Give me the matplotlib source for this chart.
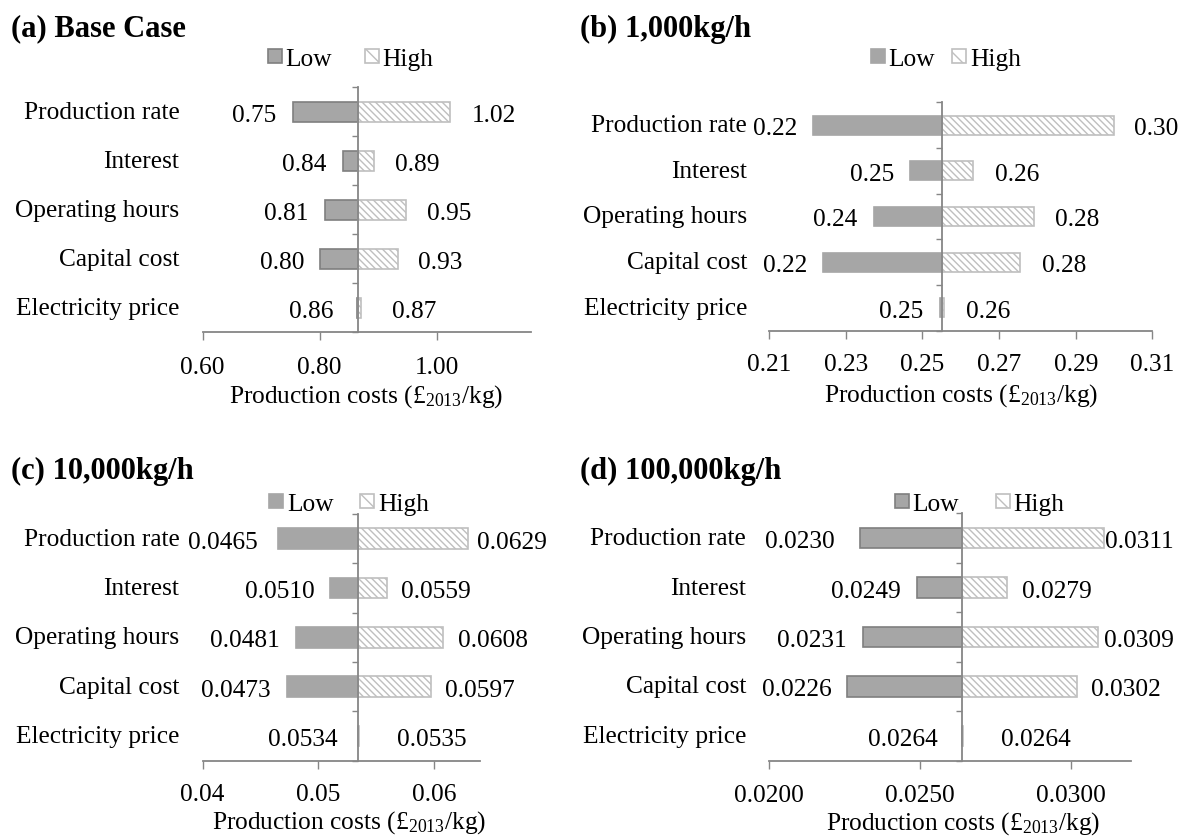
import matplotlib
matplotlib.use('Agg')
import matplotlib.pyplot as plt
from matplotlib.patches import Patch

plt.rcParams['font.family'] = ['Liberation Serif', 'DejaVu Serif']
plt.rcParams['mathtext.fontset'] = 'custom'
plt.rcParams['mathtext.rm'] = 'Liberation Serif'
plt.rcParams['mathtext.default'] = 'regular'
plt.rcParams['hatch.linewidth'] = 1.0

# ---------------- data ----------------
categories = ['Production rate', 'Interest', 'Operating hours', 'Capital cost', 'Electricity price']
titles = ['(a) Base Case', '(b) 1,000kg/h', '(c) 10,000kg/h', '(d) 100,000kg/h']
series_names = ['Low', 'High']

base_a = 0.866
low_a = [0.754, 0.840, 0.809, 0.800, 0.863]
high_a = [1.022, 0.893, 0.947, 0.933, 0.871]

base_b = 0.2551
low_b = [0.2215, 0.2467, 0.2373, 0.2240, 0.2546]
high_b = [0.3000, 0.2633, 0.2791, 0.2755, 0.2557]

base_c = 0.05345
low_c = [0.0465, 0.0510, 0.0481, 0.0473, 0.0534]
high_c = [0.0629, 0.0559, 0.0608, 0.0597, 0.0535]

base_d = 0.02641
low_d = [0.0230, 0.0249, 0.0231, 0.0226, 0.02639]
high_d = [0.0311, 0.0279, 0.0309, 0.0302, 0.02643]

ticks_a = [0.60, 0.80, 1.00]
ticklabels_a = ['0.60', '0.80', '1.00']
ticks_b = [0.21, 0.23, 0.25, 0.27, 0.29, 0.31]
ticklabels_b = ['0.21', '0.23', '0.25', '0.27', '0.29', '0.31']
ticks_c = [0.04, 0.05, 0.06]
ticklabels_c = ['0.04', '0.05', '0.06']
ticks_d = [0.020, 0.025, 0.030]
ticklabels_d = ['0.0200', '0.0250', '0.0300']

xlims = [(0.60, 1.16), (0.21, 0.31), (0.04, 0.064), (0.02, 0.032)]
label_fmts = ['{:.2f}', '{:.2f}', '{:.4f}', '{:.4f}']
xlabel = 'Production costs (£$_{2013}$/kg)'

# ---------------- layout / style ----------------
W, H = 1190, 837
fig = plt.figure(figsize=(W / 100, H / 100), dpi=100)

rects_px = [(202.5, 88.3, 530.5, 333.3), (769, 103.3, 1152.4, 331.7),
            (202.5, 515, 480.3, 761.7), (769, 514.3, 1131, 761.7)]
title_pos = [(10.8, 29), (580.5, 29), (10.8, 471), (580.5, 471)]
legend_pos = [(350.5, 60), (945.7, 60), (349, 505), (979.7, 505)]
legend_colsp_px = [33.3, 17.5, 27, 37]
FS = 18.3
TITLE_FS = 22
tick_pads = [11, 10, 10, 11]
label_pads = [3, 4.2, 2.3, 2]
xlabel_x = [0.5, 0.5, 0.526, 0.536]
gap_low = [[16, 16.5, 17, 15, 22.6],
           [15.5, 15.5, 16.3, 15.5, 16.7],
           [19.7, 15, 16.8, 16, 20.4],
           [24.4, 16.3, 16.3, 15.5, 24]]
gap_high = [[22.6, 20.8, 20.8, 20.8, 30.5],
            [21, 21.3, 21.4, 21.4, 22],
            [14, 14, 14.3, 14.3, 38.7],
            [14, 14.4, 14, 14.7, 38]]
low_edges = ['#7f7f7f', '#a6a6a6', '#a6a6a6', '#7f7f7f']
right_limits = [546.6, 1178, 546.6, 1174]
cat_gap = [23, 22, 23, 23]

LOW_FILL = '#a6a6a6'
HIGH_EDGE = '#bfbfbf'
AXIS_COL = '#868686'
HATCH = '\\' * 5
BAR_H = 0.42
EM = FS * 100 / 72

panels = [
    (base_a, low_a, high_a, ticks_a, ticklabels_a),
    (base_b, low_b, high_b, ticks_b, ticklabels_b),
    (base_c, low_c, high_c, ticks_c, ticklabels_c),
    (base_d, low_d, high_d, ticks_d, ticklabels_d),
]

ypos = list(range(len(categories) - 1, -1, -1))
high_texts = []

for k, (base, low, high, ticks, tlabels) in enumerate(panels):
    l, t, r, b = rects_px[k]
    ax = fig.add_axes([l / W, 1 - b / H, (r - l) / W, (b - t) / H])
    ax.set_xlim(*xlims[k])
    ax.set_ylim(-0.5, len(categories) - 0.5)

    ax.barh(ypos, [base - v for v in low], left=low, height=BAR_H,
            color=LOW_FILL, edgecolor=low_edges[k], linewidth=1.2, zorder=2)
    ax.barh(ypos, [v - base for v in high], left=base, height=BAR_H,
            color='white', edgecolor=HIGH_EDGE, hatch=HATCH, linewidth=1.2, zorder=2)

    for s in ['top', 'right']:
        ax.spines[s].set_visible(False)
    ax.spines['left'].set_position(('data', base))
    ax.spines['left'].set_color(AXIS_COL)
    ax.spines['left'].set_linewidth(1.3)
    ax.spines['left'].set_zorder(3)
    ax.spines['bottom'].set_color(AXIS_COL)
    ax.spines['bottom'].set_linewidth(1.3)

    ax.set_yticks([i - 0.5 for i in range(len(categories) + 1)])
    ax.set_yticklabels([])
    ax.tick_params(axis='y', direction='out', length=4.4, width=1, color=AXIS_COL)
    ax.set_xticks(ticks)
    ax.set_xticklabels(tlabels, fontsize=FS)
    ax.tick_params(axis='x', direction='out', length=6, width=1, color=AXIS_COL,
                   pad=tick_pads[k])
    ax.set_xlabel(xlabel, fontsize=FS, labelpad=label_pads[k])
    ax.xaxis.label.set_x(xlabel_x[k])

    ytr = ax.get_yaxis_transform()
    for cat, y in zip(categories, ypos):
        ax.annotate(cat, xy=(0, y), xycoords=ytr, xytext=(-cat_gap[k], 0),
                    textcoords='offset pixels', ha='right', va='center', fontsize=FS)

    fmt = label_fmts[k]
    for i, (y, lo, hi) in enumerate(zip(ypos, low, high)):
        ax.annotate(fmt.format(lo), xy=(lo, y), xytext=(-gap_low[k][i], -3),
                    textcoords='offset pixels', ha='right', va='center', fontsize=FS)
        th = ax.annotate(fmt.format(hi), xy=(hi, y), xytext=(gap_high[k][i], -3),
                         textcoords='offset pixels', ha='left', va='center', fontsize=FS)
        high_texts.append((th, right_limits[k]))

    handles = [Patch(facecolor=LOW_FILL, edgecolor=low_edges[k], linewidth=1.2),
               Patch(facecolor='white', edgecolor=HIGH_EDGE, hatch='\\\\', linewidth=1.2)]
    lx, ly = legend_pos[k]
    ax.legend(handles, series_names, ncol=2, loc='center',
              bbox_to_anchor=(lx / W, 1 - ly / H), bbox_transform=fig.transFigure,
              frameon=False, fontsize=FS, handlelength=14 / EM, handleheight=13 / EM,
              handletextpad=3.5 / EM, columnspacing=legend_colsp_px[k] / EM,
              borderpad=0, borderaxespad=0)

    tx, ty = title_pos[k]
    fig.text(tx / W, 1 - ty / H, titles[k], fontsize=TITLE_FS, fontweight='bold',
             ha='left', va='center')

# keep right-hand data labels inside the chart area
fig.canvas.draw()
renderer = fig.canvas.get_renderer()
for th, lim in high_texts:
    bb = th.get_window_extent(renderer)
    if bb.x1 > lim:
        dx, dy = th.xyann
        th.xyann = (dx - (bb.x1 - lim), dy)

fig.savefig('out.png', dpi=100)
